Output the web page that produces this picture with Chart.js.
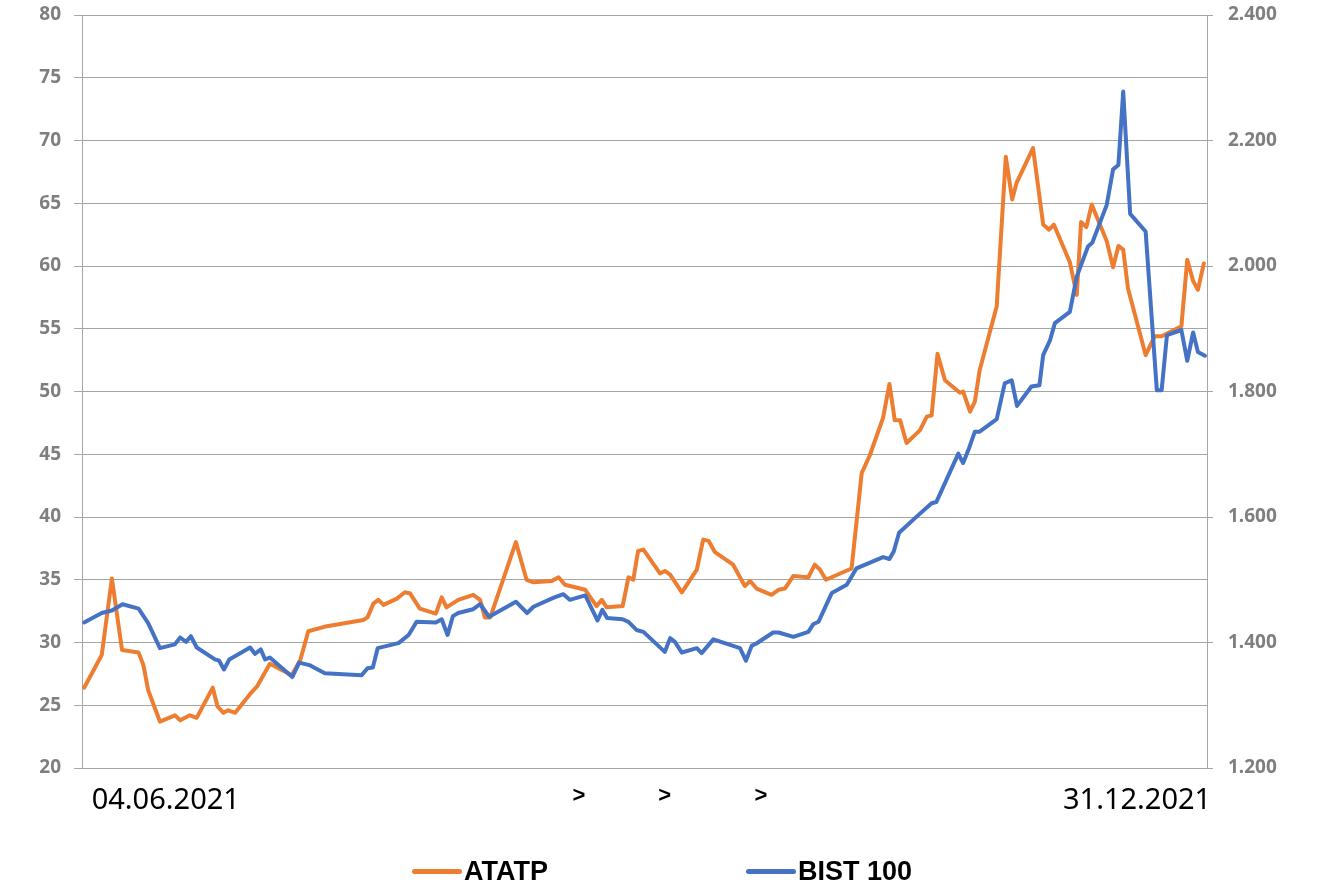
<!DOCTYPE html>
<html>
<head>
<meta charset="utf-8">
<script src="https://cdn.jsdelivr.net/npm/chart.js@4/dist/chart.umd.min.js"></script>
<style>
  html, body { margin: 0; padding: 0; background: #ffffff; }
  #wrap { position: relative; width: 1323px; height: 889px; }
  #legend { position: absolute; left: 0; top: 853px; width: 1323px; height: 36px; font-family: "Liberation Sans", Arial, sans-serif; font-weight: bold; font-size: 27px; color: #000; }
  .item { position: absolute; top: 0; height: 36px; display: flex; align-items: center; }
  .swatch { width: 50px; height: 5px; border-radius: 3px; margin-right: 2px; }
</style>
</head>
<body>
<div id="wrap">
  <canvas id="c" width="1323" height="889"></canvas>
  <div id="legend"></div>
</div>
<script>
// ---- data (x = days since 04.06.2021) ----
const seriesNames = ['ATATP', 'BIST 100'];
const seriesColors = ['#ED7D31', '#4472C4'];

const atatpDays = [0.0,3.3,5.2,7.1,10.2,11.1,12.0,14.2,17.0,18.0,19.8,21.1,24.1,25.0,26.1,27.0,28.3,31.1,32.4,34.8,38.9,40.5,42.0,45.5,52.3,53.1,54.2,55.1,56.1,58.6,60.1,61.1,62.9,65.9,67.0,67.9,70.1,72.9,74.2,75.1,76.1,80.9,82.9,84.2,87.6,88.9,90.1,93.9,96.0,97.0,97.9,100.9,102.0,102.9,103.8,104.8,107.9,108.8,109.8,112.0,114.8,116.0,117.0,118.2,121.6,123.8,124.8,126.0,128.8,130.1,131.3,132.9,135.7,136.9,137.9,139.0,143.8,145.7,147.2,149.7,150.9,151.9,152.9,154.1,156.6,157.9,158.8,159.9,161.3,164.1,164.7,166.0,166.9,167.8,171.0,172.7,173.9,174.7,177.8,179.7,180.8,181.7,184.7,186.0,186.8,187.8,188.8,191.6,192.8,193.8,194.7,195.6,198.9,200.6,201.9,205.6,206.7,207.8,208.7,209.8];
const atatpValues = [26.4,29.0,35.1,29.4,29.2,28.2,26.2,23.7,24.2,23.8,24.2,24.0,26.4,24.9,24.4,24.6,24.4,25.9,26.5,28.3,27.4,28.6,30.9,31.3,31.8,32.0,33.1,33.4,33.0,33.5,34.0,33.9,32.7,32.3,33.6,32.8,33.4,33.8,33.4,32.0,32.0,38.0,35.0,34.8,34.9,35.2,34.6,34.2,32.9,33.4,32.8,32.9,35.2,35.0,37.3,37.4,35.5,35.7,35.4,34.0,35.8,38.2,38.1,37.2,36.2,34.5,34.9,34.3,33.8,34.2,34.3,35.3,35.2,36.2,35.8,35.0,35.9,43.5,44.9,47.9,50.6,47.7,47.7,45.9,46.9,48.0,48.1,53.0,50.9,49.9,50.0,48.4,49.2,51.7,56.8,68.7,65.3,66.6,69.4,63.3,62.9,63.3,60.3,57.7,63.5,63.1,64.9,62.0,59.9,61.6,61.3,58.2,52.9,54.4,54.4,55.2,60.5,58.8,58.1,60.2];

const bistDays = [0,3.3,5.2,7.2,10.2,12.0,14.2,17.0,18.0,19.1,20.0,21.1,24.5,25.3,26.2,27.2,31.1,32.0,33.1,33.9,34.8,39.0,40.3,42.2,45.1,52.0,53.1,54.1,55.0,58.9,60.8,62.3,65.9,67.0,68.1,69.1,70.1,72.9,74.2,75.9,80.9,83.0,84.2,87.9,89.8,91.0,93.9,96.2,97.1,98.0,100.9,102.0,103.5,104.8,108.8,109.8,110.7,112.0,114.8,115.7,117.9,122.9,124.0,125.1,125.9,129.1,130.1,132.9,135.7,136.6,137.6,140.1,142.9,144.7,149.7,150.9,151.7,152.7,156.3,158.8,159.7,163.8,164.7,165.7,166.9,167.8,171.0,172.5,173.8,174.8,177.5,179.0,179.7,181.0,181.9,184.7,186.0,188.1,188.9,191.6,192.8,193.8,194.7,196.0,198.9,201.0,201.9,202.9,205.6,206.7,207.8,208.7,210.0];
const bistValues = [1432,1447,1451,1461,1454,1431,1391,1397,1408,1401,1410,1392,1373,1371,1357,1373,1392,1382,1389,1373,1376,1345,1368,1364,1351,1348,1359,1360,1391,1399,1412,1433,1432,1437,1412,1442,1447,1453,1461,1441,1465,1447,1457,1471,1477,1468,1475,1435,1452,1439,1437,1433,1420,1417,1385,1407,1401,1384,1391,1383,1405,1391,1371,1395,1398,1416,1416,1409,1417,1429,1433,1479,1492,1518,1536,1533,1545,1575,1603,1622,1624,1701,1686,1707,1736,1736,1756,1813,1818,1777,1808,1810,1858,1882,1909,1927,1983,2031,2037,2097,2154,2161,2278,2083,2055,1802,1802,1890,1898,1849,1894,1863,1857];

const xTickLabels = ['04.06.2021', '>', '>', '>', '31.12.2021'];
const xTickDays = [15.3, 92.7, 108.8, 126.8, 197.3];

// ---- build ----
const toPoints = (xs, ys) => xs.map((x, i) => ({ x: x, y: ys[i] }));
const grid = '#a6a6a6';
const axisFont = { family: 'Noto Sans', weight: 'bold', size: 19 };
const fitY = (w) => (axis) => { axis.width = w; axis.paddingTop = 0; axis.paddingBottom = 0; };

new Chart(document.getElementById('c'), {
  type: 'line',
  data: {
    datasets: [
      { label: seriesNames[0], data: toPoints(atatpDays, atatpValues), yAxisID: 'y', borderColor: seriesColors[0], backgroundColor: seriesColors[0], borderWidth: 4, pointRadius: 0, tension: 0, borderJoinStyle: 'round', borderCapStyle: 'round', order: 1 },
      { label: seriesNames[1], data: toPoints(bistDays, bistValues), yAxisID: 'y2', borderColor: seriesColors[1], backgroundColor: seriesColors[1], borderWidth: 4, pointRadius: 0, tension: 0, borderJoinStyle: 'round', borderCapStyle: 'round', order: 0 }
    ]
  },
  options: {
    responsive: false,
    animation: false,
    devicePixelRatio: 1,
    layout: { padding: { top: 15, left: 0, right: 0, bottom: 0 } },
    plugins: { legend: { display: false }, tooltip: { enabled: false } },
    scales: {
      x: {
        type: 'linear', min: -0.4, max: 210.4,
        grid: { display: false },
        border: { display: false },
        afterBuildTicks: (axis) => { axis.ticks = xTickDays.map(v => ({ value: v })); },
        afterFit: (axis) => { axis.height = 121; axis.paddingLeft = 0; axis.paddingRight = 0; },
        ticks: {
          autoSkip: false, maxRotation: 0, minRotation: 0, padding: 7, color: '#000000',
          font: (ctx) => (ctx.index >= 1 && ctx.index <= 3)
            ? { family: 'Liberation Sans', weight: 'bold', size: 22 }
            : { family: 'Noto Sans', weight: 'normal', size: 29 },
          callback: (v, i) => xTickLabels[i]
        }
      },
      y: {
        position: 'left', min: 20, max: 80,
        afterFit: fitY(82),
        grid: { color: grid, lineWidth: 1, tickLength: 8, drawTicks: true },
        border: { display: true, color: grid, width: 1 },
        ticks: { stepSize: 5, color: '#7f7f7f', font: axisFont, padding: 13 }
      },
      y2: {
        position: 'right', min: 1200, max: 2400,
        afterFit: fitY(116),
        grid: { drawOnChartArea: false, color: grid, tickLength: 6, drawTicks: true },
        border: { display: true, color: grid, width: 1 },
        ticks: {
          stepSize: 200, color: '#7f7f7f', font: axisFont, padding: 15,
          callback: (v) => { const s = String(Math.round(v)); return s.slice(0, s.length - 3) + '.' + s.slice(-3); }
        }
      }
    }
  }
});

// ---- legend ----
const legend = document.getElementById('legend');
const legendLeft = [412, 746];
seriesNames.forEach((name, i) => {
  const item = document.createElement('div');
  item.className = 'item';
  item.style.left = legendLeft[i] + 'px';
  const sw = document.createElement('span');
  sw.className = 'swatch';
  sw.style.background = seriesColors[i];
  const tx = document.createElement('span');
  tx.textContent = name;
  item.appendChild(sw); item.appendChild(tx);
  legend.appendChild(item);
});
</script>
</body>
</html>
